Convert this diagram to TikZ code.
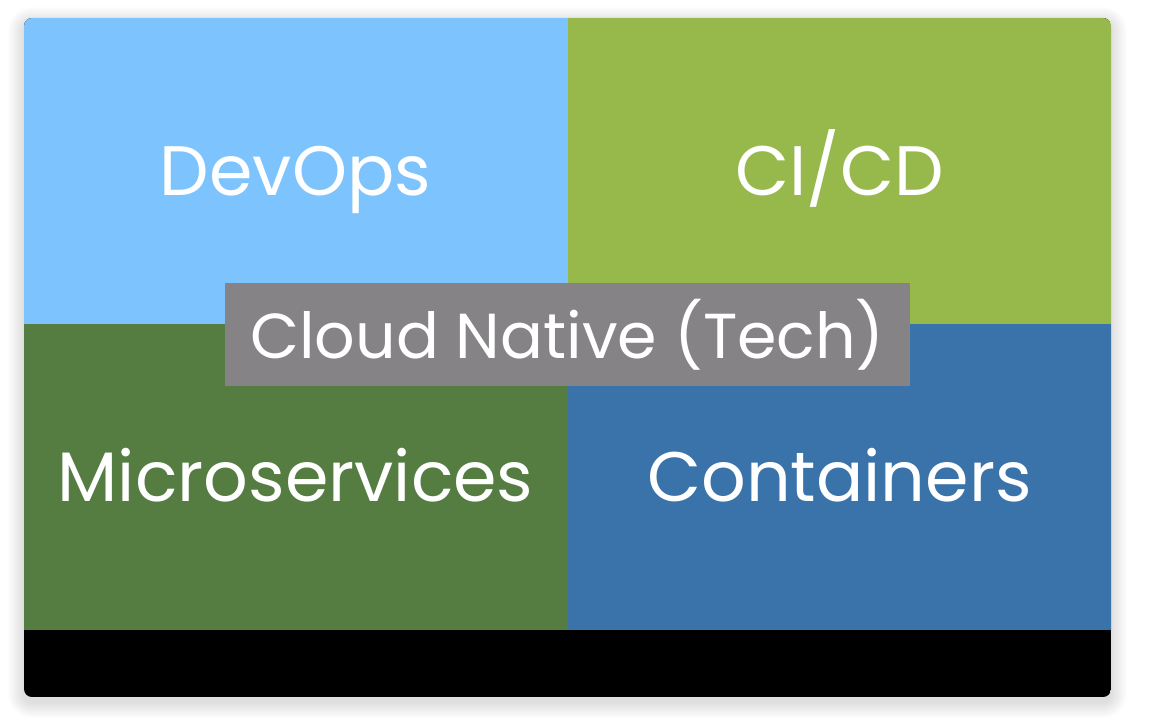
\documentclass[tikz,border=0pt]{standalone}
\usepackage{fontspec}
\setmainfont{Poppins}
\definecolor{devblue}{RGB}{125,195,253}
\definecolor{cigreen}{RGB}{151,185,75}
\definecolor{msgreen}{RGB}{85,125,66}
\definecolor{ctblue}{RGB}{58,115,170}
\definecolor{cngray}{RGB}{134,131,135}
\begin{document}
\begin{tikzpicture}[x=1pt,y=-1pt,
	  quad/.style={minimum width=544pt,minimum height=306pt,inner sep=0pt,text=white,
	    font=\fontsize{70}{84}\selectfont,text height=50pt,text depth=0pt},
	  techbox/.style={fill=cngray,minimum width=685pt,minimum height=103pt,inner sep=0pt,text=white,
	    font=\fontsize{63.5}{76}\selectfont,text height=48pt,text depth=0pt}]
	  \useasboundingbox (0,0) rectangle (1155,722);
	  \foreach \i [evaluate=\i as \r using 8+\i] in {1,...,16}
	    \fill [black,opacity=0.008,rounded corners=\r pt] (24-\i,23-\i) rectangle (1111+\i,702+\i);
	  \begin{scope}
	    \clip [rounded corners=8pt] (24,18) rectangle (1111,697);
	    \fill (24,18) rectangle (1111,697);
	    \node (D) [quad,fill=devblue] at (295.5,170.5) {DevOps};
	    \node (CI) [quad,fill=cigreen] at (839.5,170.5) {CI/CD};
	    \node (M) [quad,fill=msgreen] at (295.5,476.5) {Microservices};
	    \node (K) [quad,fill=ctblue] at (839.5,476.5) {Containers};
	    \node (CN) [techbox] at (567.5,334.5) {Cloud Native (Tech)};
	  \end{scope}
	\end{tikzpicture}
\end{document}
